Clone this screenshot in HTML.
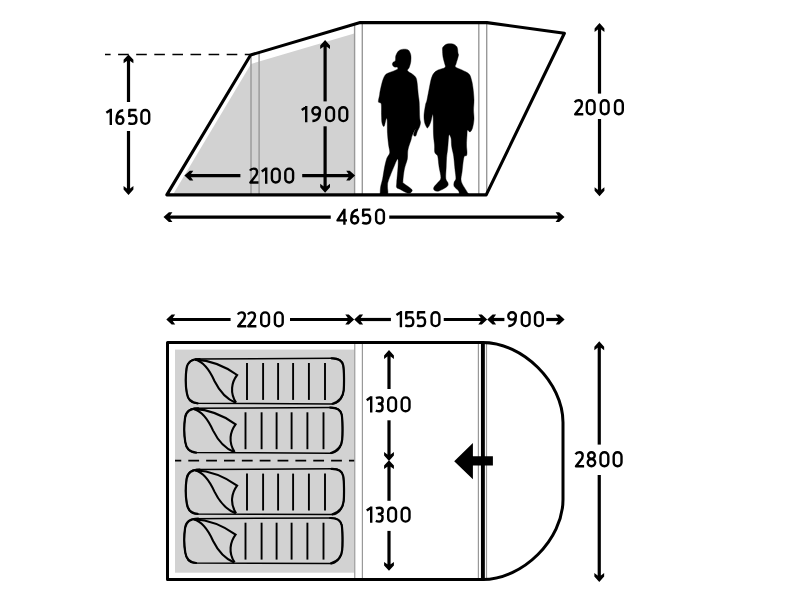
<!DOCTYPE html>
<html><head><meta charset="utf-8"><style>
html,body{margin:0;padding:0;background:#fff;width:800px;height:600px;overflow:hidden}
svg{display:block}
text{font-family:"Liberation Sans",sans-serif;fill:#000000}
</style></head><body>
<svg width="800" height="600" viewBox="0 0 800 600">
<rect width="800" height="600" fill="#fff"/>
<polygon points="173.6,193.6 251,64.0 354.2,33.6 354.2,193.6" fill="#d2d2d2"/>
<line x1="251.00" y1="54.60" x2="251.00" y2="194" stroke="#999999" stroke-width="1.4"/>
<line x1="259.10" y1="52.10" x2="259.10" y2="194" stroke="#999999" stroke-width="1.4"/>
<line x1="354.60" y1="24.40" x2="354.60" y2="194" stroke="#999999" stroke-width="1.4"/>
<line x1="362.30" y1="22.30" x2="362.30" y2="194" stroke="#999999" stroke-width="1.4"/>
<line x1="478.80" y1="22.30" x2="478.80" y2="194" stroke="#999999" stroke-width="1.4"/>
<line x1="486.70" y1="22.30" x2="486.70" y2="194" stroke="#999999" stroke-width="1.4"/>
<line x1="105" y1="54.5" x2="250" y2="54.5" stroke="#000000" stroke-width="1.7" stroke-dasharray="10.6 7.5" stroke-dashoffset="5"/>
<polygon points="166.8,194.85 250.6,55.0 360.2,22.6 487,22.6 564.4,33.3 486.2,194.85" fill="none" stroke="#000000" stroke-width="3.1" stroke-linejoin="round"/>
<path d="M 403.30 49.20 C 404.89 49.07 407.05 49.03 408.30 50.00 C 409.55 50.97 410.38 53.05 410.80 55.00 C 411.22 56.95 411.07 59.62 410.80 61.70 C 410.53 63.78 409.75 65.98 409.20 67.50 C 408.65 69.02 406.95 69.68 407.50 70.80 C 408.05 71.92 411.12 73.08 412.50 74.20 C 413.88 75.32 415.03 76.12 415.80 77.50 C 416.57 78.88 416.68 79.58 417.10 82.50 C 417.52 85.42 417.95 91.77 418.30 95.00 C 418.65 98.23 418.97 98.15 419.20 101.90 C 419.43 105.65 419.48 114.07 419.70 117.50 C 419.92 120.93 420.53 120.92 420.50 122.50 C 420.47 124.08 420.00 125.58 419.50 127.00 C 419.00 128.42 418.08 129.58 417.50 131.00 C 416.92 132.42 416.45 134.63 416.00 135.50 C 415.55 136.37 415.20 136.37 414.80 136.20 C 414.40 136.03 413.47 135.73 413.60 134.50 C 413.73 133.27 415.83 128.63 415.60 128.80 C 415.37 128.97 412.97 133.63 412.20 135.50 C 411.43 137.37 411.49 138.42 411.00 140.00 C 410.51 141.58 409.79 143.17 409.25 145.00 C 408.71 146.83 408.07 148.62 407.75 151.00 C 407.43 153.38 407.86 156.30 407.30 159.30 C 406.74 162.30 405.13 165.28 404.40 169.00 C 403.67 172.72 402.98 179.18 402.90 181.60 C 402.82 184.02 402.43 182.22 403.90 183.50 C 405.37 184.78 410.48 187.85 411.70 189.30 C 412.92 190.75 411.85 191.55 411.20 192.20 C 410.55 192.85 409.67 193.68 407.80 193.20 C 405.93 192.72 401.85 190.27 400.00 189.30 C 398.15 188.33 397.25 188.52 396.70 187.40 C 396.15 186.28 396.47 186.32 396.70 182.60 C 396.93 178.88 397.95 169.05 398.10 165.10 C 398.25 161.15 398.25 158.73 397.60 158.90 C 396.95 159.07 395.73 162.48 394.20 166.10 C 392.67 169.72 389.52 177.22 388.40 180.60 C 387.28 183.98 387.65 184.13 387.50 186.40 C 387.35 188.67 388.63 192.90 387.50 194.20 C 386.37 195.50 381.92 194.53 380.70 194.20 C 379.48 193.87 380.20 193.50 380.20 192.20 C 380.20 190.90 380.30 188.65 380.70 186.40 C 381.10 184.15 381.95 181.92 382.60 178.70 C 383.25 175.48 383.95 170.33 384.60 167.10 C 385.25 163.87 386.02 160.98 386.50 159.30 C 386.98 157.62 386.96 158.13 387.50 157.00 C 388.04 155.87 389.57 154.50 389.75 152.50 C 389.93 150.50 388.98 148.12 388.60 145.00 C 388.23 141.88 387.75 138.00 387.50 133.75 C 387.25 129.50 387.35 121.88 387.10 119.50 C 386.85 117.12 386.43 118.50 386.00 119.50 C 385.57 120.50 384.93 124.38 384.50 125.50 C 384.07 126.62 383.83 126.75 383.40 126.25 C 382.97 125.75 382.22 124.38 381.90 122.50 C 381.58 120.62 381.62 118.12 381.50 115.00 C 381.38 111.88 381.72 105.98 381.20 103.80 C 380.68 101.62 378.67 103.37 378.40 101.90 C 378.13 100.43 379.33 96.70 379.60 95.00 C 379.87 93.30 379.58 93.78 380.00 91.70 C 380.42 89.62 381.40 85.00 382.10 82.50 C 382.80 80.00 383.43 78.16 384.20 76.70 C 384.97 75.24 385.45 74.58 386.70 73.75 C 387.95 72.92 389.90 72.46 391.70 71.70 C 393.50 70.94 396.60 69.97 397.50 69.20 C 398.40 68.43 397.58 67.45 397.10 67.10 C 396.62 66.75 395.37 67.45 394.60 67.10 C 393.83 66.75 392.78 65.77 392.50 65.00 C 392.22 64.23 392.42 63.27 392.90 62.50 C 393.38 61.73 394.92 61.52 395.40 60.40 C 395.88 59.28 395.24 57.40 395.80 55.80 C 396.36 54.20 397.50 51.90 398.75 50.80 C 400.00 49.70 401.71 49.33 403.30 49.20 Z" fill="#000000" stroke="#000000" stroke-width="0.4" stroke-linejoin="round"/><path d="M 447.00 44.00 C 448.67 43.50 451.33 43.50 453.00 44.00 C 454.67 44.50 456.17 45.50 457.00 47.00 C 457.83 48.50 457.75 51.67 458.00 53.00 C 458.25 54.33 458.58 54.00 458.50 55.00 C 458.42 56.00 457.92 57.50 457.50 59.00 C 457.08 60.50 456.33 62.67 456.00 64.00 C 455.67 65.33 454.50 66.00 455.50 67.00 C 456.50 68.00 459.75 68.83 462.00 70.00 C 464.25 71.17 467.42 72.33 469.00 74.00 C 470.58 75.67 470.83 77.67 471.50 80.00 C 472.17 82.33 472.58 84.67 473.00 88.00 C 473.42 91.33 473.92 96.33 474.00 100.00 C 474.08 103.67 473.50 106.83 473.50 110.00 C 473.50 113.17 474.17 116.00 474.00 119.00 C 473.83 122.00 473.17 125.83 472.50 128.00 C 471.83 130.17 470.83 131.67 470.00 132.00 C 469.17 132.33 468.00 129.50 467.50 130.00 C 467.00 130.50 467.17 132.50 467.00 135.00 C 466.83 137.50 466.50 142.15 466.50 145.00 C 466.50 147.85 467.00 150.33 467.00 152.10 C 467.00 153.87 467.02 154.72 466.50 155.60 C 465.98 156.48 464.63 154.75 463.90 157.40 C 463.17 160.05 462.55 167.53 462.10 171.50 C 461.65 175.47 460.47 177.97 461.20 181.20 C 461.93 184.43 465.32 188.68 466.50 190.90 C 467.68 193.12 469.33 193.90 468.30 194.50 C 467.27 195.10 461.92 195.10 460.30 194.50 C 458.68 193.90 459.62 192.23 458.60 190.90 C 457.58 189.57 454.93 187.97 454.20 186.50 C 453.47 185.03 453.92 183.42 454.20 182.10 C 454.48 180.78 455.77 180.67 455.90 178.60 C 456.03 176.53 455.37 173.38 455.00 169.70 C 454.63 166.02 454.13 159.73 453.70 156.50 C 453.27 153.27 452.77 152.22 452.40 150.30 C 452.03 148.38 451.73 147.05 451.50 145.00 C 451.27 142.95 451.42 139.67 451.00 138.00 C 450.58 136.33 449.50 133.83 449.00 135.00 C 448.50 136.17 448.25 142.45 448.00 145.00 C 447.75 147.55 447.73 148.23 447.50 150.30 C 447.27 152.37 446.82 154.60 446.60 157.40 C 446.38 160.20 446.33 163.57 446.20 167.10 C 446.07 170.63 445.50 175.95 445.80 178.60 C 446.10 181.25 447.78 181.68 448.00 183.00 C 448.22 184.32 448.58 185.18 447.10 186.50 C 445.62 187.82 441.17 190.23 439.10 190.90 C 437.03 191.57 435.58 191.08 434.70 190.50 C 433.82 189.92 433.20 188.80 433.80 187.40 C 434.40 186.00 437.12 183.72 438.30 182.10 C 439.48 180.48 440.77 180.20 440.90 177.70 C 441.03 175.20 439.62 170.63 439.10 167.10 C 438.58 163.57 438.23 158.57 437.80 156.50 C 437.37 154.43 437.02 155.43 436.50 154.70 C 435.98 153.97 435.03 153.72 434.70 152.10 C 434.37 150.48 434.70 147.85 434.50 145.00 C 434.30 142.15 433.75 140.00 433.50 135.00 C 433.25 130.00 433.42 117.33 433.00 115.00 C 432.58 112.67 431.58 119.33 431.00 121.00 C 430.42 122.67 430.08 123.83 429.50 125.00 C 428.92 126.17 428.08 127.83 427.50 128.00 C 426.92 128.17 426.50 127.00 426.00 126.00 C 425.50 125.00 424.83 123.83 424.50 122.00 C 424.17 120.17 423.83 117.83 424.00 115.00 C 424.17 112.17 425.00 107.50 425.50 105.00 C 426.00 102.50 426.33 103.00 427.00 100.00 C 427.67 97.00 428.75 90.67 429.50 87.00 C 430.25 83.33 430.75 80.33 431.50 78.00 C 432.25 75.67 432.92 74.33 434.00 73.00 C 435.08 71.67 436.17 70.92 438.00 70.00 C 439.83 69.08 443.92 68.67 445.00 67.50 C 446.08 66.33 444.83 64.75 444.50 63.00 C 444.17 61.25 443.33 59.17 443.00 57.00 C 442.67 54.83 442.50 51.67 442.50 50.00 C 442.50 48.33 442.25 48.00 443.00 47.00 C 443.75 46.00 445.33 44.50 447.00 44.00 Z" fill="#000000" stroke="#000000" stroke-width="0.4" stroke-linejoin="round"/>
<line x1="128.50" y1="59.40" x2="128.50" y2="102.00" stroke="#000000" stroke-width="3.20"/>
<line x1="128.50" y1="131.00" x2="128.50" y2="190.00" stroke="#000000" stroke-width="3.20"/>
<polygon points="128.50,54.40 133.40,59.80 133.40,63.30 130.15,61.00 126.85,61.00 123.60,63.30 123.60,59.80" fill="#000000"/>
<polygon points="128.50,195.00 123.60,189.60 123.60,186.10 126.85,188.40 130.15,188.40 133.40,186.10 133.40,189.60" fill="#000000"/>
<path transform="translate(105.60 108.80)" d="M 5.200 0 L 5.200 16.300 M 5.200 0.900 L 0.750 4.000" fill="none" stroke="#000000" stroke-width="2.40" stroke-linejoin="round"/><path transform="translate(115.20 108.80)" d="M 8.0 1.4 C 4.2 1.6 1.200 4.8 1.200 11.400 M 1.200 11.400 A 3.500 3.700 0 1 0 8.200 11.400 A 3.500 3.700 0 1 0 1.200 11.400" fill="none" stroke="#000000" stroke-width="2.40" stroke-linejoin="round"/><path transform="translate(128.00 108.80)" d="M 8.5 1.200 L 1.400 1.200 L 1.250 8.2 M 1.200 7.9 C 2.2 6.9 3.4 6.4 4.8 6.4 C 7.1 6.4 8.400 8.2 8.400 10.7 C 8.400 13.4 6.9 15.100 4.4 15.100 C 3.0 15.100 1.7 14.9 0.4 14.3" fill="none" stroke="#000000" stroke-width="2.40" stroke-linejoin="round"/><path transform="translate(140.20 108.80)" d="M 1.200 5.100 A 3.900 3.900 0 0 1 9.000 5.100 L 9.000 11.200 A 3.900 3.900 0 0 1 1.200 11.200 Z" fill="none" stroke="#000000" stroke-width="2.40" stroke-linejoin="round"/>
<line x1="325.10" y1="45.10" x2="325.10" y2="101.40" stroke="#000000" stroke-width="3.20"/>
<line x1="325.10" y1="126.30" x2="325.10" y2="187.75" stroke="#000000" stroke-width="3.20"/>
<polygon points="325.10,40.10 330.00,45.50 330.00,49.00 326.75,46.70 323.45,46.70 320.20,49.00 320.20,45.50" fill="#000000"/>
<polygon points="325.10,192.75 320.20,187.35 320.20,183.85 323.45,186.15 326.75,186.15 330.00,183.85 330.00,187.35" fill="#000000"/>
<path transform="translate(301.00 106.00)" d="M 5.200 0 L 5.200 16.300 M 5.200 0.900 L 0.750 4.000" fill="none" stroke="#000000" stroke-width="2.40" stroke-linejoin="round"/><path transform="translate(311.20 106.00)" d="M 1.200 4.900 A 3.800 3.700 0 1 0 8.800 4.900 A 3.800 3.700 0 1 0 1.200 4.900 M 8.800 4.900 C 8.800 11.5 6.8 15.000 1.2 15.000" fill="none" stroke="#000000" stroke-width="2.40" stroke-linejoin="round"/><path transform="translate(325.00 106.00)" d="M 1.200 5.100 A 3.900 3.900 0 0 1 9.000 5.100 L 9.000 11.200 A 3.900 3.900 0 0 1 1.200 11.200 Z" fill="none" stroke="#000000" stroke-width="2.40" stroke-linejoin="round"/><path transform="translate(338.20 106.00)" d="M 1.200 5.100 A 3.900 3.900 0 0 1 9.000 5.100 L 9.000 11.200 A 3.900 3.900 0 0 1 1.200 11.200 Z" fill="none" stroke="#000000" stroke-width="2.40" stroke-linejoin="round"/>
<line x1="189.40" y1="175.60" x2="240.40" y2="175.60" stroke="#000000" stroke-width="3.20"/>
<line x1="302.20" y1="175.60" x2="350.10" y2="175.60" stroke="#000000" stroke-width="3.20"/>
<polygon points="184.40,175.60 189.80,170.70 193.30,170.70 191.00,173.95 191.00,177.25 193.30,180.50 189.80,180.50" fill="#000000"/>
<polygon points="355.10,175.60 349.70,180.50 346.20,180.50 348.50,177.25 348.50,173.95 346.20,170.70 349.70,170.70" fill="#000000"/>
<path transform="translate(249.10 167.40)" d="M 0.9 3.3 C 1.7 1.9 3.0 1.200 4.6 1.200 C 6.8 1.200 8.000 2.5 8.000 4.6 C 8.000 6.6 7.2 8.0 5.6 9.6 L 1.300 15.100 L 9.400 15.100" fill="none" stroke="#000000" stroke-width="2.40" stroke-linejoin="round"/><path transform="translate(261.00 167.40)" d="M 5.200 0 L 5.200 16.300 M 5.200 0.900 L 0.750 4.000" fill="none" stroke="#000000" stroke-width="2.40" stroke-linejoin="round"/><path transform="translate(270.70 167.40)" d="M 1.200 5.100 A 3.900 3.900 0 0 1 9.000 5.100 L 9.000 11.200 A 3.900 3.900 0 0 1 1.200 11.200 Z" fill="none" stroke="#000000" stroke-width="2.40" stroke-linejoin="round"/><path transform="translate(284.10 167.40)" d="M 1.200 5.100 A 3.900 3.900 0 0 1 9.000 5.100 L 9.000 11.200 A 3.900 3.900 0 0 1 1.200 11.200 Z" fill="none" stroke="#000000" stroke-width="2.40" stroke-linejoin="round"/>
<line x1="168.50" y1="217.10" x2="330.75" y2="217.10" stroke="#000000" stroke-width="3.20"/>
<line x1="389.25" y1="217.10" x2="559.50" y2="217.10" stroke="#000000" stroke-width="3.20"/>
<polygon points="163.50,217.10 168.90,212.20 172.40,212.20 170.10,215.45 170.10,218.75 172.40,222.00 168.90,222.00" fill="#000000"/>
<polygon points="564.50,217.10 559.10,222.00 555.60,222.00 557.90,218.75 557.90,215.45 555.60,212.20 559.10,212.20" fill="#000000"/>
<path transform="translate(336.10 208.40)" d="M 8.3 1.300 L 1.400 12.0 L 10.900 12.0 M 8.3 0.3 L 8.3 16.300" fill="none" stroke="#000000" stroke-width="2.40" stroke-linejoin="round"/><path transform="translate(350.00 208.40)" d="M 8.0 1.4 C 4.2 1.6 1.200 4.8 1.200 11.400 M 1.200 11.400 A 3.500 3.700 0 1 0 8.200 11.400 A 3.500 3.700 0 1 0 1.200 11.400" fill="none" stroke="#000000" stroke-width="2.40" stroke-linejoin="round"/><path transform="translate(361.80 208.40)" d="M 8.5 1.200 L 1.400 1.200 L 1.250 8.2 M 1.200 7.9 C 2.2 6.9 3.4 6.4 4.8 6.4 C 7.1 6.4 8.400 8.2 8.400 10.7 C 8.400 13.4 6.9 15.100 4.4 15.100 C 3.0 15.100 1.7 14.9 0.4 14.3" fill="none" stroke="#000000" stroke-width="2.40" stroke-linejoin="round"/><path transform="translate(374.90 208.40)" d="M 1.200 5.100 A 3.900 3.900 0 0 1 9.000 5.100 L 9.000 11.200 A 3.900 3.900 0 0 1 1.200 11.200 Z" fill="none" stroke="#000000" stroke-width="2.40" stroke-linejoin="round"/>
<line x1="599.50" y1="28.00" x2="599.50" y2="93.60" stroke="#000000" stroke-width="3.20"/>
<line x1="599.50" y1="119.00" x2="599.50" y2="191.25" stroke="#000000" stroke-width="3.20"/>
<polygon points="599.50,23.00 604.40,28.40 604.40,31.90 601.15,29.60 597.85,29.60 594.60,31.90 594.60,28.40" fill="#000000"/>
<polygon points="599.50,196.25 594.60,190.85 594.60,187.35 597.85,189.65 601.15,189.65 604.40,187.35 604.40,190.85" fill="#000000"/>
<path transform="translate(573.90 99.10)" d="M 0.9 3.3 C 1.7 1.9 3.0 1.200 4.6 1.200 C 6.8 1.200 8.000 2.5 8.000 4.6 C 8.000 6.6 7.2 8.0 5.6 9.6 L 1.300 15.100 L 9.400 15.100" fill="none" stroke="#000000" stroke-width="2.40" stroke-linejoin="round"/><path transform="translate(585.60 99.10)" d="M 1.200 5.100 A 3.900 3.900 0 0 1 9.000 5.100 L 9.000 11.200 A 3.900 3.900 0 0 1 1.200 11.200 Z" fill="none" stroke="#000000" stroke-width="2.40" stroke-linejoin="round"/><path transform="translate(599.60 99.10)" d="M 1.200 5.100 A 3.900 3.900 0 0 1 9.000 5.100 L 9.000 11.200 A 3.900 3.900 0 0 1 1.200 11.200 Z" fill="none" stroke="#000000" stroke-width="2.40" stroke-linejoin="round"/><path transform="translate(613.80 99.10)" d="M 1.200 5.100 A 3.900 3.900 0 0 1 9.000 5.100 L 9.000 11.200 A 3.900 3.900 0 0 1 1.200 11.200 Z" fill="none" stroke="#000000" stroke-width="2.40" stroke-linejoin="round"/>
<rect x="175" y="349.6" width="179.2" height="223.1" fill="#d2d2d2"/>
<line x1="354.75" y1="342" x2="354.75" y2="580" stroke="#999999" stroke-width="1.2"/>
<line x1="362.40" y1="342" x2="362.40" y2="580" stroke="#999999" stroke-width="1.2"/>
<line x1="478.40" y1="342" x2="478.40" y2="580" stroke="#999999" stroke-width="1.2"/>
<line x1="486.50" y1="342" x2="486.50" y2="580" stroke="#999999" stroke-width="1.2"/>
<line x1="175" y1="460.7" x2="354.2" y2="460.7" stroke="#000000" stroke-width="1.7" stroke-dasharray="10.8 7.05" stroke-dashoffset="4.55"/>
<path d="M 196.20 359.00 L 333.50 358.20 C 338.10 358.20, 342.20 360.60, 343.20 365.30 C 344.20 370.80, 344.20 384.80, 343.70 390.30 C 343.20 395.80, 341.10 400.80, 336.10 403.10 C 334.60 403.80, 333.10 403.90, 331.60 403.90 L 195.30 403.30 C 190.50 402.70, 187.50 398.20, 186.80 392.90 C 185.60 386.20, 185.60 375.20, 186.60 368.20 C 187.30 363.20, 191.00 359.00, 196.20 359.00 Z" fill="none" stroke="#000000" stroke-width="1.5"/><path d="M 199.60 359.00 C 191.00 359.00, 187.30 363.20, 186.60 368.20 C 185.60 375.20, 185.60 386.20, 186.80 392.90 C 187.50 398.20, 190.50 402.70, 197.60 403.30 M 331.60 358.30 C 338.10 358.20, 342.20 360.60, 343.20 365.30 C 344.20 370.80, 344.20 384.80, 343.70 390.30 C 343.20 395.80, 341.10 400.80, 332.60 403.70" fill="none" stroke="#000000" stroke-width="2.2" stroke-linecap="round"/><path d="M 195.10 359.60 C 205.10 362.30 210.60 372.30 214.60 381.30 C 218.60 389.30 225.60 398.80 235.60 402.70" fill="none" stroke="#000000" stroke-width="2.1"/><path d="M 195.10 359.60 C 210.10 360.30 225.10 366.30 237.10 375.00 C 231.60 382.30 229.60 392.80 236.10 402.70" fill="none" stroke="#000000" stroke-width="2.1"/><line x1="247.00" y1="363.00" x2="247.00" y2="399.90" stroke="#000000" stroke-width="1.9"/><line x1="263.10" y1="363.00" x2="263.10" y2="399.90" stroke="#000000" stroke-width="1.9"/><line x1="278.10" y1="363.00" x2="278.10" y2="399.90" stroke="#000000" stroke-width="1.9"/><line x1="293.10" y1="363.00" x2="293.10" y2="399.90" stroke="#000000" stroke-width="1.9"/><line x1="308.90" y1="363.00" x2="308.90" y2="399.90" stroke="#000000" stroke-width="1.9"/><line x1="325.00" y1="363.00" x2="325.00" y2="399.90" stroke="#000000" stroke-width="1.9"/>
<path d="M 194.70 408.30 L 332.00 407.50 C 336.60 407.50, 340.70 409.90, 341.70 414.60 C 342.70 420.10, 342.70 434.10, 342.20 439.60 C 341.70 445.10, 339.60 450.10, 334.60 452.40 C 333.10 453.10, 331.60 453.20, 330.10 453.20 L 193.80 452.60 C 189.00 452.00, 186.00 447.50, 185.30 442.20 C 184.10 435.50, 184.10 424.50, 185.10 417.50 C 185.80 412.50, 189.50 408.30, 194.70 408.30 Z" fill="none" stroke="#000000" stroke-width="1.5"/><path d="M 198.10 408.30 C 189.50 408.30, 185.80 412.50, 185.10 417.50 C 184.10 424.50, 184.10 435.50, 185.30 442.20 C 186.00 447.50, 189.00 452.00, 196.10 452.60 M 330.10 407.60 C 336.60 407.50, 340.70 409.90, 341.70 414.60 C 342.70 420.10, 342.70 434.10, 342.20 439.60 C 341.70 445.10, 339.60 450.10, 331.10 453.00" fill="none" stroke="#000000" stroke-width="2.2" stroke-linecap="round"/><path d="M 193.60 408.90 C 203.60 411.60 209.10 421.60 213.10 430.60 C 217.10 438.60 224.10 448.10 234.10 452.00" fill="none" stroke="#000000" stroke-width="2.1"/><path d="M 193.60 408.90 C 208.60 409.60 223.60 415.60 235.60 424.30 C 230.10 431.60 228.10 442.10 234.60 452.00" fill="none" stroke="#000000" stroke-width="2.1"/><line x1="245.50" y1="412.30" x2="245.50" y2="449.20" stroke="#000000" stroke-width="1.9"/><line x1="261.60" y1="412.30" x2="261.60" y2="449.20" stroke="#000000" stroke-width="1.9"/><line x1="276.60" y1="412.30" x2="276.60" y2="449.20" stroke="#000000" stroke-width="1.9"/><line x1="291.60" y1="412.30" x2="291.60" y2="449.20" stroke="#000000" stroke-width="1.9"/><line x1="307.40" y1="412.30" x2="307.40" y2="449.20" stroke="#000000" stroke-width="1.9"/><line x1="323.50" y1="412.30" x2="323.50" y2="449.20" stroke="#000000" stroke-width="1.9"/>
<path d="M 196.20 469.60 L 333.50 468.80 C 338.10 468.80, 342.20 471.20, 343.20 475.90 C 344.20 481.40, 344.20 495.40, 343.70 500.90 C 343.20 506.40, 341.10 511.40, 336.10 513.70 C 334.60 514.40, 333.10 514.50, 331.60 514.50 L 195.30 513.90 C 190.50 513.30, 187.50 508.80, 186.80 503.50 C 185.60 496.80, 185.60 485.80, 186.60 478.80 C 187.30 473.80, 191.00 469.60, 196.20 469.60 Z" fill="none" stroke="#000000" stroke-width="1.5"/><path d="M 199.60 469.60 C 191.00 469.60, 187.30 473.80, 186.60 478.80 C 185.60 485.80, 185.60 496.80, 186.80 503.50 C 187.50 508.80, 190.50 513.30, 197.60 513.90 M 331.60 468.90 C 338.10 468.80, 342.20 471.20, 343.20 475.90 C 344.20 481.40, 344.20 495.40, 343.70 500.90 C 343.20 506.40, 341.10 511.40, 332.60 514.30" fill="none" stroke="#000000" stroke-width="2.2" stroke-linecap="round"/><path d="M 195.10 470.20 C 205.10 472.90 210.60 482.90 214.60 491.90 C 218.60 499.90 225.60 509.40 235.60 513.30" fill="none" stroke="#000000" stroke-width="2.1"/><path d="M 195.10 470.20 C 210.10 470.90 225.10 476.90 237.10 485.60 C 231.60 492.90 229.60 503.40 236.10 513.30" fill="none" stroke="#000000" stroke-width="2.1"/><line x1="247.00" y1="473.60" x2="247.00" y2="510.50" stroke="#000000" stroke-width="1.9"/><line x1="263.10" y1="473.60" x2="263.10" y2="510.50" stroke="#000000" stroke-width="1.9"/><line x1="278.10" y1="473.60" x2="278.10" y2="510.50" stroke="#000000" stroke-width="1.9"/><line x1="293.10" y1="473.60" x2="293.10" y2="510.50" stroke="#000000" stroke-width="1.9"/><line x1="308.90" y1="473.60" x2="308.90" y2="510.50" stroke="#000000" stroke-width="1.9"/><line x1="325.00" y1="473.60" x2="325.00" y2="510.50" stroke="#000000" stroke-width="1.9"/>
<path d="M 194.70 518.70 L 332.00 517.90 C 336.60 517.90, 340.70 520.30, 341.70 525.00 C 342.70 530.50, 342.70 544.50, 342.20 550.00 C 341.70 555.50, 339.60 560.50, 334.60 562.80 C 333.10 563.50, 331.60 563.60, 330.10 563.60 L 193.80 563.00 C 189.00 562.40, 186.00 557.90, 185.30 552.60 C 184.10 545.90, 184.10 534.90, 185.10 527.90 C 185.80 522.90, 189.50 518.70, 194.70 518.70 Z" fill="none" stroke="#000000" stroke-width="1.5"/><path d="M 198.10 518.70 C 189.50 518.70, 185.80 522.90, 185.10 527.90 C 184.10 534.90, 184.10 545.90, 185.30 552.60 C 186.00 557.90, 189.00 562.40, 196.10 563.00 M 330.10 518.00 C 336.60 517.90, 340.70 520.30, 341.70 525.00 C 342.70 530.50, 342.70 544.50, 342.20 550.00 C 341.70 555.50, 339.60 560.50, 331.10 563.40" fill="none" stroke="#000000" stroke-width="2.2" stroke-linecap="round"/><path d="M 193.60 519.30 C 203.60 522.00 209.10 532.00 213.10 541.00 C 217.10 549.00 224.10 558.50 234.10 562.40" fill="none" stroke="#000000" stroke-width="2.1"/><path d="M 193.60 519.30 C 208.60 520.00 223.60 526.00 235.60 534.70 C 230.10 542.00 228.10 552.50 234.60 562.40" fill="none" stroke="#000000" stroke-width="2.1"/><line x1="245.50" y1="522.70" x2="245.50" y2="559.60" stroke="#000000" stroke-width="1.9"/><line x1="261.60" y1="522.70" x2="261.60" y2="559.60" stroke="#000000" stroke-width="1.9"/><line x1="276.60" y1="522.70" x2="276.60" y2="559.60" stroke="#000000" stroke-width="1.9"/><line x1="291.60" y1="522.70" x2="291.60" y2="559.60" stroke="#000000" stroke-width="1.9"/><line x1="307.40" y1="522.70" x2="307.40" y2="559.60" stroke="#000000" stroke-width="1.9"/><line x1="323.50" y1="522.70" x2="323.50" y2="559.60" stroke="#000000" stroke-width="1.9"/>
<path d="M 482.8 342.5 L 167.5 342.5 L 167.5 579.5 L 482.8 579.5 C 522.80 579.5 563.0 539.50 563.0 499.5 L 563.0 422.5 C 563.0 382.50 522.80 342.5 482.8 342.5 Z" fill="none" stroke="#000000" stroke-width="3" stroke-linejoin="round"/>
<line x1="482.9" y1="342" x2="482.9" y2="580.5" stroke="#000000" stroke-width="3.9"/>
<polygon points="454.2,461.25 472.9,442.9 472.9,456.25 492.9,456.25 492.9,465.4 472.9,465.4 472.9,479.2" fill="#000000"/>
<line x1="171.30" y1="319.50" x2="230.60" y2="319.50" stroke="#000000" stroke-width="3.20"/>
<line x1="290.00" y1="319.50" x2="349.20" y2="319.50" stroke="#000000" stroke-width="3.20"/>
<polygon points="166.30,319.50 171.70,314.60 175.20,314.60 172.90,317.85 172.90,321.15 175.20,324.40 171.70,324.40" fill="#000000"/>
<polygon points="354.20,319.50 348.80,324.40 345.30,324.40 347.60,321.15 347.60,317.85 345.30,314.60 348.80,314.60" fill="#000000"/>
<path transform="translate(236.90 311.20)" d="M 0.9 3.3 C 1.7 1.9 3.0 1.200 4.6 1.200 C 6.8 1.200 8.000 2.5 8.000 4.6 C 8.000 6.6 7.2 8.0 5.6 9.6 L 1.300 15.100 L 9.400 15.100" fill="none" stroke="#000000" stroke-width="2.40" stroke-linejoin="round"/><path transform="translate(247.00 311.20)" d="M 0.9 3.3 C 1.7 1.9 3.0 1.200 4.6 1.200 C 6.8 1.200 8.000 2.5 8.000 4.6 C 8.000 6.6 7.2 8.0 5.6 9.6 L 1.300 15.100 L 9.400 15.100" fill="none" stroke="#000000" stroke-width="2.40" stroke-linejoin="round"/><path transform="translate(260.00 311.20)" d="M 1.200 5.100 A 3.900 3.900 0 0 1 9.000 5.100 L 9.000 11.200 A 3.900 3.900 0 0 1 1.200 11.200 Z" fill="none" stroke="#000000" stroke-width="2.40" stroke-linejoin="round"/><path transform="translate(273.70 311.20)" d="M 1.200 5.100 A 3.900 3.900 0 0 1 9.000 5.100 L 9.000 11.200 A 3.900 3.900 0 0 1 1.200 11.200 Z" fill="none" stroke="#000000" stroke-width="2.40" stroke-linejoin="round"/>
<line x1="359.20" y1="319.50" x2="390.90" y2="319.50" stroke="#000000" stroke-width="3.20"/>
<line x1="443.75" y1="319.50" x2="482.20" y2="319.50" stroke="#000000" stroke-width="3.20"/>
<polygon points="354.20,319.50 359.60,314.60 363.10,314.60 360.80,317.85 360.80,321.15 363.10,324.40 359.60,324.40" fill="#000000"/>
<polygon points="487.20,319.50 481.80,324.40 478.30,324.40 480.60,321.15 480.60,317.85 478.30,314.60 481.80,314.60" fill="#000000"/>
<path transform="translate(395.70 311.00)" d="M 5.200 0 L 5.200 16.300 M 5.200 0.900 L 0.750 4.000" fill="none" stroke="#000000" stroke-width="2.40" stroke-linejoin="round"/><path transform="translate(404.90 311.00)" d="M 8.5 1.200 L 1.400 1.200 L 1.250 8.2 M 1.200 7.9 C 2.2 6.9 3.4 6.4 4.8 6.4 C 7.1 6.4 8.400 8.2 8.400 10.7 C 8.400 13.4 6.9 15.100 4.4 15.100 C 3.0 15.100 1.7 14.9 0.4 14.3" fill="none" stroke="#000000" stroke-width="2.40" stroke-linejoin="round"/><path transform="translate(416.70 311.00)" d="M 8.5 1.200 L 1.400 1.200 L 1.250 8.2 M 1.200 7.9 C 2.2 6.9 3.4 6.4 4.8 6.4 C 7.1 6.4 8.400 8.2 8.400 10.7 C 8.400 13.4 6.9 15.100 4.4 15.100 C 3.0 15.100 1.7 14.9 0.4 14.3" fill="none" stroke="#000000" stroke-width="2.40" stroke-linejoin="round"/><path transform="translate(430.40 311.00)" d="M 1.200 5.100 A 3.900 3.900 0 0 1 9.000 5.100 L 9.000 11.200 A 3.900 3.900 0 0 1 1.200 11.200 Z" fill="none" stroke="#000000" stroke-width="2.40" stroke-linejoin="round"/>
<line x1="492.20" y1="319.50" x2="504.40" y2="319.50" stroke="#000000" stroke-width="3.20"/>
<line x1="546.30" y1="319.50" x2="559.60" y2="319.50" stroke="#000000" stroke-width="3.20"/>
<polygon points="487.20,319.50 492.60,314.60 496.10,314.60 493.80,317.85 493.80,321.15 496.10,324.40 492.60,324.40" fill="#000000"/>
<polygon points="564.60,319.50 559.20,324.40 555.70,324.40 558.00,321.15 558.00,317.85 555.70,314.60 559.20,314.60" fill="#000000"/>
<path transform="translate(507.10 311.00)" d="M 1.200 4.900 A 3.800 3.700 0 1 0 8.800 4.900 A 3.800 3.700 0 1 0 1.200 4.900 M 8.800 4.900 C 8.800 11.5 6.8 15.000 1.2 15.000" fill="none" stroke="#000000" stroke-width="2.40" stroke-linejoin="round"/><path transform="translate(520.60 311.00)" d="M 1.200 5.100 A 3.900 3.900 0 0 1 9.000 5.100 L 9.000 11.200 A 3.900 3.900 0 0 1 1.200 11.200 Z" fill="none" stroke="#000000" stroke-width="2.40" stroke-linejoin="round"/><path transform="translate(533.80 311.00)" d="M 1.200 5.100 A 3.900 3.900 0 0 1 9.000 5.100 L 9.000 11.200 A 3.900 3.900 0 0 1 1.200 11.200 Z" fill="none" stroke="#000000" stroke-width="2.40" stroke-linejoin="round"/>
<line x1="389.00" y1="355.00" x2="389.00" y2="389.00" stroke="#000000" stroke-width="3.20"/>
<line x1="389.00" y1="420.30" x2="389.00" y2="456.00" stroke="#000000" stroke-width="3.20"/>
<polygon points="389.00,350.00 393.90,355.40 393.90,358.90 390.65,356.60 387.35,356.60 384.10,358.90 384.10,355.40" fill="#000000"/>
<polygon points="389.00,461.00 384.10,455.60 384.10,452.10 387.35,454.40 390.65,454.40 393.90,452.10 393.90,455.60" fill="#000000"/>
<path transform="translate(366.00 396.20)" d="M 5.200 0 L 5.200 16.300 M 5.200 0.900 L 0.750 4.000" fill="none" stroke="#000000" stroke-width="2.40" stroke-linejoin="round"/><path transform="translate(375.40 396.20)" d="M 0.6 1.9 C 1.6 1.4 2.9 1.200 4.2 1.200 C 6.3 1.200 7.3 2.4 7.3 4.3 C 7.3 6.3 5.8 7.5 3.6 7.5 L 2.4 7.5 M 3.6 7.5 C 6.0 7.5 7.200 8.8 7.200 11.3 C 7.200 13.8 6.0 15.100 3.8 15.100 C 2.6 15.100 1.5 14.9 0.4 14.4" fill="none" stroke="#000000" stroke-width="2.40" stroke-linejoin="round"/><path transform="translate(387.00 396.20)" d="M 1.200 5.100 A 3.900 3.900 0 0 1 9.000 5.100 L 9.000 11.200 A 3.900 3.900 0 0 1 1.200 11.200 Z" fill="none" stroke="#000000" stroke-width="2.40" stroke-linejoin="round"/><path transform="translate(400.50 396.20)" d="M 1.200 5.100 A 3.900 3.900 0 0 1 9.000 5.100 L 9.000 11.200 A 3.900 3.900 0 0 1 1.200 11.200 Z" fill="none" stroke="#000000" stroke-width="2.40" stroke-linejoin="round"/>
<line x1="389.00" y1="465.20" x2="389.00" y2="500.80" stroke="#000000" stroke-width="3.20"/>
<line x1="389.00" y1="530.90" x2="389.00" y2="565.80" stroke="#000000" stroke-width="3.20"/>
<polygon points="389.00,460.20 393.90,465.60 393.90,469.10 390.65,466.80 387.35,466.80 384.10,469.10 384.10,465.60" fill="#000000"/>
<polygon points="389.00,570.80 384.10,565.40 384.10,561.90 387.35,564.20 390.65,564.20 393.90,561.90 393.90,565.40" fill="#000000"/>
<path transform="translate(366.00 506.50)" d="M 5.200 0 L 5.200 16.300 M 5.200 0.900 L 0.750 4.000" fill="none" stroke="#000000" stroke-width="2.40" stroke-linejoin="round"/><path transform="translate(375.40 506.50)" d="M 0.6 1.9 C 1.6 1.4 2.9 1.200 4.2 1.200 C 6.3 1.200 7.3 2.4 7.3 4.3 C 7.3 6.3 5.8 7.5 3.6 7.5 L 2.4 7.5 M 3.6 7.5 C 6.0 7.5 7.200 8.8 7.200 11.3 C 7.200 13.8 6.0 15.100 3.8 15.100 C 2.6 15.100 1.5 14.9 0.4 14.4" fill="none" stroke="#000000" stroke-width="2.40" stroke-linejoin="round"/><path transform="translate(387.00 506.50)" d="M 1.200 5.100 A 3.900 3.900 0 0 1 9.000 5.100 L 9.000 11.200 A 3.900 3.900 0 0 1 1.200 11.200 Z" fill="none" stroke="#000000" stroke-width="2.40" stroke-linejoin="round"/><path transform="translate(400.50 506.50)" d="M 1.200 5.100 A 3.900 3.900 0 0 1 9.000 5.100 L 9.000 11.200 A 3.900 3.900 0 0 1 1.200 11.200 Z" fill="none" stroke="#000000" stroke-width="2.40" stroke-linejoin="round"/>
<line x1="599.25" y1="346.25" x2="599.25" y2="444.60" stroke="#000000" stroke-width="3.20"/>
<line x1="599.25" y1="475.00" x2="599.25" y2="577.00" stroke="#000000" stroke-width="3.20"/>
<polygon points="599.25,341.25 604.15,346.65 604.15,350.15 600.90,347.85 597.60,347.85 594.35,350.15 594.35,346.65" fill="#000000"/>
<polygon points="599.25,582.00 594.35,576.60 594.35,573.10 597.60,575.40 600.90,575.40 604.15,573.10 604.15,576.60" fill="#000000"/>
<path transform="translate(574.70 451.10)" d="M 0.9 3.3 C 1.7 1.9 3.0 1.200 4.6 1.200 C 6.8 1.200 8.000 2.5 8.000 4.6 C 8.000 6.6 7.2 8.0 5.6 9.6 L 1.300 15.100 L 9.400 15.100" fill="none" stroke="#000000" stroke-width="2.40" stroke-linejoin="round"/><path transform="translate(586.50 451.10)" d="M 1.650 4.350 A 3.300 3.150 0 1 0 8.250 4.350 A 3.300 3.150 0 1 0 1.650 4.350 M 1.200 11.500 A 3.750 3.600 0 1 0 8.700 11.500 A 3.750 3.600 0 1 0 1.200 11.500" fill="none" stroke="#000000" stroke-width="2.40" stroke-linejoin="round"/><path transform="translate(599.30 451.10)" d="M 1.200 5.100 A 3.900 3.900 0 0 1 9.000 5.100 L 9.000 11.200 A 3.900 3.900 0 0 1 1.200 11.200 Z" fill="none" stroke="#000000" stroke-width="2.40" stroke-linejoin="round"/><path transform="translate(612.50 451.10)" d="M 1.200 5.100 A 3.900 3.900 0 0 1 9.000 5.100 L 9.000 11.200 A 3.900 3.900 0 0 1 1.200 11.200 Z" fill="none" stroke="#000000" stroke-width="2.40" stroke-linejoin="round"/>
</svg>
</body></html>
